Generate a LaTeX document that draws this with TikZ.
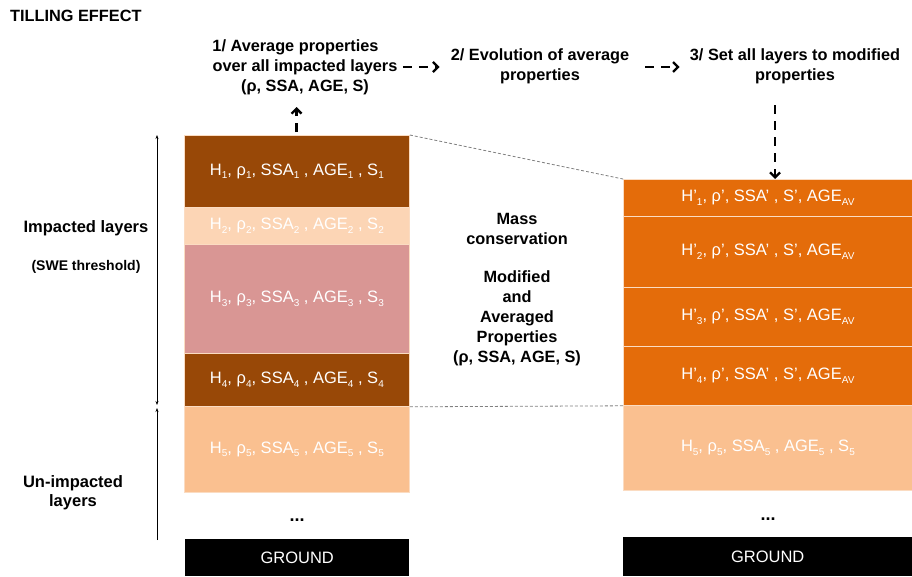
\documentclass[tikz,border=0pt]{standalone}
\usepackage{fontspec}
\setmainfont{Liberation Sans}
\usetikzlibrary{arrows.meta}
\definecolor{dbrown}{HTML}{984807}
\definecolor{lpeach}{HTML}{FCD5B5}
\definecolor{lpink}{HTML}{D99694}
\definecolor{peach}{HTML}{FAC090}
\definecolor{orng}{HTML}{E46C0A}
\definecolor{laybd}{HTML}{FBDCC2}
\newcommand\lsb[1]{\raisebox{-0.4ex}{\fontsize{10}{10}\selectfont #1}}
\tikzset{
  lay/.style={draw=laybd, line width=0.8pt, anchor=north west, text=white,
    font=\fontsize{16.5}{18}\selectfont, inner sep=0pt},
  gnd/.style={fill=black, anchor=north west, text=white,
    font=\fontsize{16.5}{18}\selectfont, inner sep=0pt},
  lab/.style={font=\bfseries\fontsize{16.3}{20}\selectfont, align=center, inner sep=0pt},
  dotsty/.style={font=\bfseries\fontsize{18}{18}\selectfont, inner sep=0pt},
  flow/.style={line width=2.3pt, dash pattern=on 9pt off 7pt,
    -{Straight Barb[length=5pt,width=10pt]}},
  guide/.style={gray, line width=0.8pt, dash pattern=on 3pt off 2pt},
  axis/.style={line width=0.7pt}
}
\begin{document}
\begin{tikzpicture}[x=1pt,y=-1pt]
\useasboundingbox (0,0) rectangle (912,576);
% title
\node[lab, anchor=west] (title) at (10,16) {TILLING EFFECT};
% left column
\node[lay, fill=dbrown, minimum width=225pt, minimum height=72pt] (l1) at (184,135)
  {H\lsb{1}, ρ\lsb{1}, SSA\lsb{1} , AGE\lsb{1} , S\lsb{1}};
\node[lay, fill=lpeach, minimum width=225pt, minimum height=37pt] (l2) at (184,207)
  {H\lsb{2}, ρ\lsb{2}, SSA\lsb{2} , AGE\lsb{2} , S\lsb{2}};
\node[lay, fill=lpink, minimum width=225pt, minimum height=109pt] (l3) at (184,244)
  {H\lsb{3}, ρ\lsb{3}, SSA\lsb{3} , AGE\lsb{3} , S\lsb{3}};
\node[lay, fill=dbrown, minimum width=225pt, minimum height=53pt] (l4) at (184,353)
  {H\lsb{4}, ρ\lsb{4}, SSA\lsb{4} , AGE\lsb{4} , S\lsb{4}};
\node[lay, fill=peach, minimum width=225pt, minimum height=86pt] (l5) at (184,406)
  {H\lsb{5}, ρ\lsb{5}, SSA\lsb{5} , AGE\lsb{5} , S\lsb{5}};
\node[dotsty] (ldots) at (297,520) {...};
\node[gnd, minimum width=224pt, minimum height=37pt] (lg) at (185,539) {GROUND};
% right column
\node[lay, fill=orng, minimum width=289pt, minimum height=37pt] (r1) at (623,179)
  {H’\lsb{1}, ρ’, SSA’ , S’, AGE\lsb{AV}};
\node[lay, fill=orng, minimum width=289pt, minimum height=71pt] (r2) at (623,216)
  {H’\lsb{2}, ρ’, SSA’ , S’, AGE\lsb{AV}};
\node[lay, fill=orng, minimum width=289pt, minimum height=59pt] (r3) at (623,287)
  {H’\lsb{3}, ρ’, SSA’ , S’, AGE\lsb{AV}};
\node[lay, fill=orng, minimum width=289pt, minimum height=59pt] (r4) at (623,346)
  {H’\lsb{4}, ρ’, SSA’ , S’, AGE\lsb{AV}};
\node[lay, fill=peach, minimum width=289pt, minimum height=85pt] (r5) at (623,405)
  {H\lsb{5}, ρ\lsb{5}, SSA\lsb{5} , AGE\lsb{5} , S\lsb{5}};
\node[dotsty] (rdots) at (768,519) {...};
\node[gnd, minimum width=289pt, minimum height=39pt] (rg) at (623,537) {GROUND};
% guides
\draw[guide] (l1.north east) -- (r1.north west);
\draw[guide] (l4.south east) -- (r4.south west);
% axis
\coordinate (atop) at (157,135);
\coordinate (amid) at (157,405);
\coordinate (amid2) at (157,408);
\coordinate (abot) at (157,540);
\draw[axis, {Stealth[length=4pt,width=3pt]}-{Stealth[length=4pt,width=3pt]}] (amid) -- (atop);
\draw[axis, -{Stealth[length=4pt,width=3pt]}] (abot) -- (amid2);
% left labels
\node[lab, font=\bfseries\fontsize{16.5}{20}\selectfont] (imp) at (86,228) {Impacted layers};
\node[lab, font=\bfseries\fontsize{14}{16}\selectfont] (swe) at (86,267) {(SWE threshold)};
\node[lab, font=\bfseries\fontsize{16.5}{19}\selectfont] (unimp) at (73,493) {Un-impacted\\layers};
% center text
\node[lab] (mass) at (517,229) {Mass\\conservation};
\node[lab] (mod) at (517,318) {Modified\\and\\Averaged\\Properties\\(ρ, SSA, AGE, S)};
% steps
\node[lab] (t1) at (305,67) {1/ Average properties\hspace*{19pt}\\over all impacted layers\\(ρ, SSA, AGE, S)};
\node[lab] (t2) at (540,66) {2/ Evolution of average\\properties};
\node[lab] (t3) at (795,66) {3/ Set all layers to modified\\properties};
% flow arrows
\coordinate (a1) at (296.5,132);
\draw[flow] (a1) -- (a1 |- 0,107);
\draw[flow, shorten <=5pt, shorten >=11pt] (t1.east) -- (t1.east -| t2.west);
\draw[flow, shorten <=16pt, shorten >=10pt] (t2.east |- t1.east) -- (t1.east -| t3.west);
\coordinate (a3) at (775,105);
\draw[flow] (a3) -- (a3 |- r1.north);
\end{tikzpicture}
\end{document}
